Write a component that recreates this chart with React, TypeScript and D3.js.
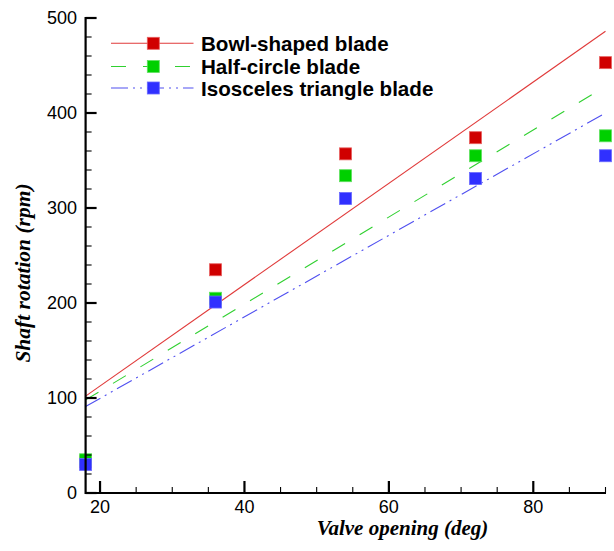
import React from "react";
import * as d3 from "d3";

const xValues = [18, 36, 54, 72, 90];
const bowlValues = [33, 235, 357, 374, 453];
const halfValues = [35, 205, 334, 355, 376];
const isoValues = [30, 201, 310, 331, 355];

const fitX = [18, 90];
const bowlFit = [102, 486];
const halfFit = [98, 428];
const isoFit = [91, 400];

const xMajorTicks = [20, 40, 60, 80];
const xMinorTicks = [25, 30, 35, 45, 50, 55, 65, 70, 75, 85, 90];
const yMajorTicks = [0, 100, 200, 300, 400, 500];
const yMinorTicks = [20, 40, 60, 80, 120, 140, 160, 180, 220, 240, 260, 280, 320, 340, 360, 380, 420, 440, 460, 480];

const seriesNames = ["Bowl-shaped blade", "Half-circle blade", "Isosceles triangle blade"];

const W = 614;
const H = 551;

export default function App() {
  const x = d3.scaleLinear().domain([18, 90]).range([85.6, 605.5]);
  const y = d3.scaleLinear().domain([0, 500]).range([493, 18]);

  const series = [
    { name: seriesNames[0], values: bowlValues, fit: bowlFit, line: "#e03a3a", marker: "#d00000", mstroke: "#e86060", dash: "" },
    { name: seriesNames[1], values: halfValues, fit: halfFit, line: "#30d030", marker: "#00d000", mstroke: "#60e060", dash: "15 17" },
    { name: seriesNames[2], values: isoValues, fit: isoFit, line: "#5050f0", marker: "#3030ff", mstroke: "#6a6aff", dash: "17 5 2 5 2 5" },
  ];

  const lineGen = d3
    .line<[number, number]>()
    .x((d) => x(d[0]))
    .y((d) => y(d[1]));

  const ms = 12;
  const axisColor = "#000";
  const sans = "'Liberation Sans', Arial, sans-serif";
  const serif = "'Liberation Serif', 'Times New Roman', serif";

  const legendY = [43.3, 66.5, 88];

  return (
    <svg width={W} height={H} style={{ position: "absolute", left: 0, top: 0, background: "#fff" }}>
      <rect x={0} y={0} width={W} height={H} fill="#fff" />
      {/* fit lines */}
      {series.map((s, i) => (
        <path
          key={"fit" + i}
          d={lineGen(fitX.map((xv, j) => [xv, s.fit[j]]) as [number, number][]) || ""}
          fill="none"
          stroke={s.line}
          strokeWidth={1.1}
          strokeDasharray={s.dash || undefined}
        />
      ))}
      {/* markers */}
      {series.map((s, i) =>
        s.values.map((v, j) => (
          <rect
            key={"m" + i + "-" + j}
            x={x(xValues[j]) - ms / 2}
            y={y(v) - ms / 2}
            width={ms}
            height={ms}
            fill={s.marker}
            stroke={s.mstroke}
            strokeWidth={0.8}
          />
        ))
      )}
      {/* axes */}
      <line x1={x(18)} x2={x(90) + 0.5} y1={y(0)} y2={y(0)} stroke={axisColor} strokeWidth={2.2} />
      <line x1={x(18)} x2={x(18)} y1={y(0) + 1} y2={y(500) - 1} stroke={axisColor} strokeWidth={2.2} />
      {xMajorTicks.map((t) => (
        <g key={"xm" + t}>
          <line x1={x(t)} x2={x(t)} y1={y(0)} y2={y(0) - 12} stroke={axisColor} strokeWidth={2.2} />
          <text x={x(t)} y={512.5} textAnchor="middle" fontFamily={sans} fontSize={18} fill="#000">
            {t}
          </text>
        </g>
      ))}
      {xMinorTicks.map((t) => (
        <line key={"xn" + t} x1={x(t)} x2={x(t)} y1={y(0)} y2={y(0) - 6} stroke={axisColor} strokeWidth={1.1} />
      ))}
      {yMajorTicks.map((t) => (
        <g key={"ym" + t}>
          <line x1={x(18)} x2={x(18) + 11} y1={y(t)} y2={y(t)} stroke={axisColor} strokeWidth={2.2} />
          <text x={77} y={y(t) + 6.4} textAnchor="end" fontFamily={sans} fontSize={18} fill="#000">
            {t}
          </text>
        </g>
      ))}
      {yMinorTicks.map((t) => (
        <line key={"yn" + t} x1={x(18)} x2={x(18) + 6} y1={y(t)} y2={y(t)} stroke={axisColor} strokeWidth={1.1} />
      ))}
      {/* axis titles */}
      <text
        x={402.5}
        y={534.5}
        textAnchor="middle"
        fontFamily={serif}
        fontWeight="bold"
        fontStyle="italic"
        fontSize={21}
        fill="#000"
      >
        Valve opening (deg)
      </text>
      <text
        transform={`translate(30,273) rotate(-90)`}
        textAnchor="middle"
        fontFamily={serif}
        fontWeight="bold"
        fontStyle="italic"
        fontSize={21.5}
        fill="#000"
      >
        Shaft rotation (rpm)
      </text>
      {/* legend */}
      {series.map((s, i) => (
        <g key={"lg" + i}>
          <line
            x1={111}
            x2={193.5}
            y1={legendY[i]}
            y2={legendY[i]}
            stroke={s.line}
            strokeWidth={1.1}
            strokeDasharray={s.dash || undefined}
          />
          <rect
            x={153.3 - ms / 2}
            y={legendY[i] - ms / 2}
            width={ms}
            height={ms}
            fill={s.marker}
            stroke={s.mstroke}
            strokeWidth={0.8}
          />
          <text x={201} y={legendY[i] + 7.6} fontFamily={sans} fontWeight="bold" fontSize={20.6} fill="#000">
            {s.name}
          </text>
        </g>
      ))}
    </svg>
  );
}
